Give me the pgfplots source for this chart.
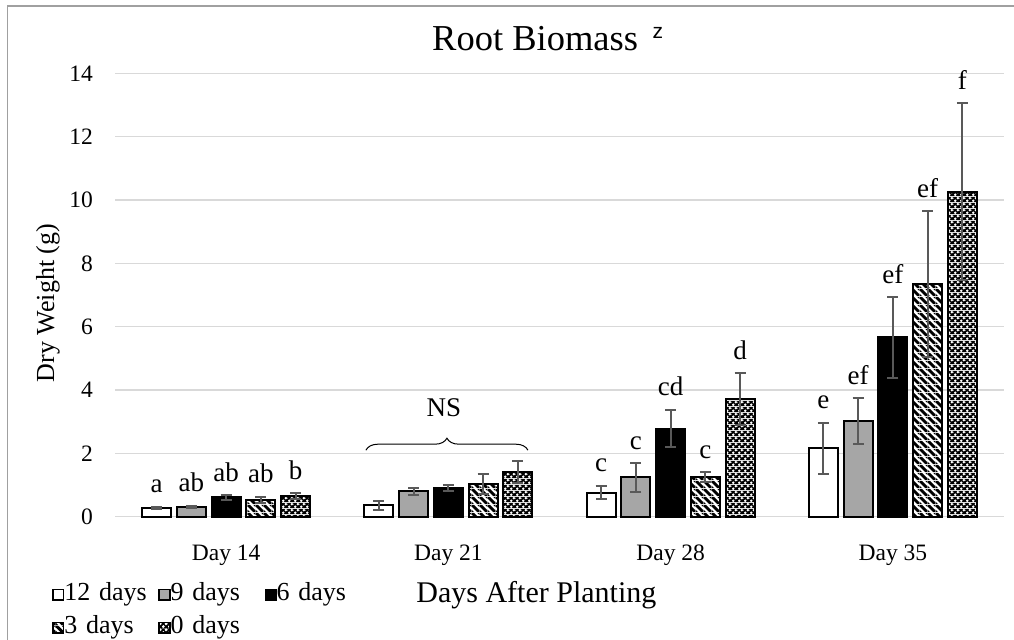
\documentclass[border=0pt]{standalone}
\usepackage{fontspec}
\setmainfont{Liberation Serif}
\setsansfont{Liberation Sans}
\usepackage{pgfplots}
\pgfplotsset{compat=1.18}
\usetikzlibrary{patterns,decorations.pathreplacing}

\definecolor{gridgray}{HTML}{D9D9D9}
\definecolor{errgray}{HTML}{595959}
\definecolor{midgray}{HTML}{A6A6A6}
\definecolor{framegray}{HTML}{A0A0A0}

% white/black diagonal stripes
\pgfdeclarepatterninherentlycolored{diagstripes}{\pgfpointorigin}{\pgfpoint{8bp}{8bp}}{\pgfpoint{8bp}{8bp}}{%
  \pgfsetfillcolor{white}%
  \pgfpathrectangle{\pgfpointorigin}{\pgfpoint{8bp}{8bp}}\pgfusepath{fill}%
  \pgfsetfillcolor{black}%
  \pgfpathmoveto{\pgfpoint{0bp}{5.8bp}}\pgfpathlineto{\pgfpoint{5.8bp}{0bp}}%
  \pgfpathlineto{\pgfpoint{8bp}{0bp}}\pgfpathlineto{\pgfpoint{8bp}{2.2bp}}%
  \pgfpathlineto{\pgfpoint{2.2bp}{8bp}}\pgfpathlineto{\pgfpoint{0bp}{8bp}}\pgfpathclose
  \pgfpathmoveto{\pgfpoint{0bp}{0bp}}\pgfpathlineto{\pgfpoint{2.2bp}{0bp}}%
  \pgfpathlineto{\pgfpoint{0bp}{2.2bp}}\pgfpathclose
  \pgfpathmoveto{\pgfpoint{8bp}{5.8bp}}\pgfpathlineto{\pgfpoint{8bp}{8bp}}%
  \pgfpathlineto{\pgfpoint{5.8bp}{8bp}}\pgfpathclose
  \pgfusepath{fill}}

% white dots on black, checker arrangement
\pgfdeclarepatterninherentlycolored{dotcheck}{\pgfpointorigin}{\pgfpoint{6bp}{6bp}}{\pgfpoint{6bp}{6bp}}{%
  \pgfsetfillcolor{black}%
  \pgfpathrectangle{\pgfpointorigin}{\pgfpoint{6bp}{6bp}}\pgfusepath{fill}%
  \pgfsetfillcolor{white}%
  \pgfpathcircle{\pgfpoint{1.5bp}{1.5bp}}{1.65bp}%
  \pgfpathcircle{\pgfpoint{4.5bp}{4.5bp}}{1.65bp}\pgfusepath{fill}}

\newcommand\tickfont{\fontsize{23.5bp}{27bp}\selectfont}
\newcommand\lblfont{\fontsize{27bp}{31bp}\selectfont}
\newcommand\legfont{\fontsize{26bp}{30bp}\selectfont}

\pgfplotsset{
  sqlegend/.style={legend image code/.code={\draw[##1,line width=1.6bp] (0bp,0.5bp) rectangle (10.5bp,11bp);}},
  barstyle/.style={draw=black, line width=2bp, sqlegend,
    error bars/y dir=both, error bars/y explicit,
    error bars/error bar style={color=errgray, line width=2bp},
    error bars/error mark options={rotate=90, mark size=5.5bp, line width=2bp, color=errgray}},
}

% letter label above an error-bar cap
\newcommand\lbl[3]{\node[anchor=base, font=\lblfont, yshift=14bp, inner sep=0pt] at (axis cs:#1,#2) {#3};}

\begin{document}
\begin{tikzpicture}
\path[use as bounding box] (0bp,0bp) rectangle (1014bp,-640bp);
\fill[white] (0bp,0bp) rectangle (1014bp,-640bp);
\draw[framegray, line width=1.3bp] (7.5bp,-700bp) -- (7.5bp,-6bp) -- (1100bp,-6bp);

\node[anchor=base west, font=\fontsize{36.5bp}{41bp}\selectfont, inner sep=0pt] at (432bp,-50bp)
  {Root Biomass\hspace{0.4em}\raisebox{12bp}{\sffamily\fontsize{21bp}{24bp}\selectfont z}};

\begin{axis}[
  at={(115bp,-516.7bp)}, anchor=south west,
  scale only axis, width=889bp, height=443.4bp,
  xmin=-0.5, xmax=3.5, ymin=0, ymax=14,
  ybar=5.7bp, bar width=29bp,
  xtick={0,1,2,3}, xticklabels={Day 14,Day 21,Day 28,Day 35},
  ytick={0,2,...,14},
  ymajorgrids, grid style={gridgray, line width=1.3bp},
  axis line style={draw=none},
  major tick style={draw=none},
  tick label style={font=\tickfont},
  /pgf/number format/assume math mode=true,
  xticklabel style={anchor=base, inner sep=0pt, yshift=-39.3bp},
  yticklabel style={anchor=east, inner sep=0pt, xshift=-22bp},
  ylabel={Dry Weight (g)},
  ylabel style={at={(axis description cs:-0.0754,0.482)}, anchor=center, font=\fontsize{26bp}{30bp}\selectfont},
  xlabel={Days After Planting},
  xlabel style={at={(axis description cs:0.474,-0.1924)}, anchor=base, font=\fontsize{30bp}{34bp}\selectfont, inner sep=0pt},
  legend columns=3,
  legend style={at={(axis description cs:-0.0740,-0.143)}, anchor=north west,
    draw=none, fill=none, column sep=0pt, row sep=10bp,
    nodes={inner sep=0pt, text width=94bp, align=left, font=\legfont, text height=18bp, text depth=5bp},
    cells={anchor=base west}},
  clip=false,
]
\addplot[barstyle, fill=white] coordinates {
  (0,0.28) +- (0,0.03)
  (1,0.36) +- (0,0.15)
  (2,0.76) +- (0,0.21)
  (3,2.16) +- (0,0.81)
};
\addlegendentry{12 days}
\addplot[barstyle, fill=midgray] coordinates {
  (0,0.32) +- (0,0.03)
  (1,0.81) +- (0,0.11)
  (2,1.24) +- (0,0.45)
  (3,3.02) +- (0,0.72)
};
\addlegendentry{9 days}
\addplot[barstyle, fill=black] coordinates {
  (0,0.61) +- (0,0.07)
  (1,0.90) +- (0,0.10)
  (2,2.78) +- (0,0.59)
  (3,5.66) +- (0,1.27)
};
\addlegendentry{6 days}
\addplot[barstyle, pattern=diagstripes] coordinates {
  (0,0.53) +- (0,0.10)
  (1,1.04) +- (0,0.32)
  (2,1.25) +- (0,0.15)
  (3,7.35) +- (0,2.30)
};
\addlegendentry{3 days}
\addplot[barstyle, pattern=dotcheck] coordinates {
  (0,0.65) +- (0,0.09)
  (1,1.42) +- (0,0.35)
  (2,3.71) +- (0,0.82)
  (3,10.26) +- (0,2.79)
};
\addlegendentry{0 days}

% significance letters
\lbl{-0.3123}{0.31}{a}
\lbl{-0.1561}{0.35}{ab}
\lbl{0}{0.68}{ab}
\lbl{0.1561}{0.63}{ab}
\lbl{0.3123}{0.74}{b}
\lbl{1.6877}{0.97}{c}
\lbl{1.8439}{1.69}{c}
\lbl{2}{3.37}{cd}
\lbl{2.1561}{1.40}{c}
\lbl{2.3123}{4.53}{d}
\lbl{2.6877}{2.97}{e}
\lbl{2.8439}{3.74}{ef}
\lbl{3}{6.93}{ef}
\lbl{3.1561}{9.65}{ef}
\lbl{3.3123}{13.05}{f}

% no significant difference on day 21
\draw[black, line width=1bp, decorate, decoration={brace, amplitude=12bp}]
  (axis cs:0.629,2.1) -- (axis cs:1.358,2.1);
\node[font=\lblfont, inner sep=0pt] at (axis cs:0.98,3.43) {NS};
\end{axis}
\end{tikzpicture}
\end{document}
